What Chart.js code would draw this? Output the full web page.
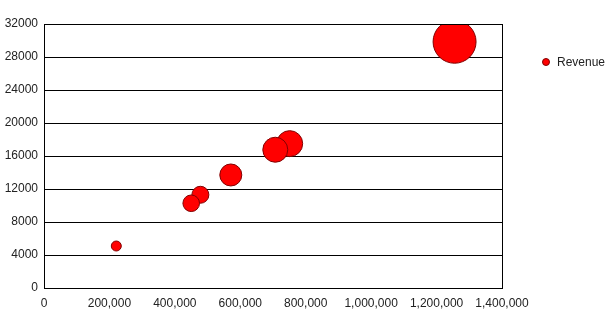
<!DOCTYPE html>
<html>
<head>
<meta charset="utf-8">
<script src="https://cdn.jsdelivr.net/npm/chart.js@4/dist/chart.umd.min.js"></script>
<style>
  html, body { margin: 0; padding: 0; background: #fff; }
  #wrap { width: 609px; height: 311px; }
</style>
</head>
<body>
<div id="wrap"><canvas id="chart" width="609" height="311"></canvas></div>
<script>
// Data (bigger bubbles first so the small ones sit on top)
const seriesName = 'Revenue';
const xValues = [1255000, 751000, 707000, 571000, 478000, 450000, 221000];
const yValues = [29850, 17500, 16760, 13700, 11300, 10270, 5090];
const sizes = [21.5, 13, 12.5, 11, 8.5, 8.3, 5];

const xTicks = [0, 200000, 400000, 600000, 800000, 1000000, 1200000, 1400000];
const yTicks = [0, 4000, 8000, 12000, 16000, 20000, 24000, 28000, 32000];

const points = xValues.map((x, i) => ({ x: x, y: yValues[i], r: sizes[i] }));

const fontFamily = '"Liberation Sans", Arial, sans-serif';

// border round the plot area plus a small legend on the right
const frameAndLegend = {
    id: 'frameAndLegend',
    afterDatasetsDraw(chart) {
        const ctx = chart.ctx;
        const a = chart.chartArea;
        ctx.save();
        ctx.strokeStyle = '#000';
        ctx.lineWidth = 1;
        ctx.strokeRect(Math.round(a.left) + 0.5, Math.round(a.top) + 0.5,
            Math.round(a.right - a.left), Math.round(a.bottom - a.top));

        // legend
        const ds = chart.data.datasets[0];
        ctx.beginPath();
        ctx.arc(546, 62, 3.5, 0, Math.PI * 2);
        ctx.fillStyle = ds.backgroundColor;
        ctx.fill();
        ctx.strokeStyle = ds.borderColor;
        ctx.stroke();
        ctx.fillStyle = '#222';
        ctx.font = '12px ' + fontFamily;
        ctx.textBaseline = 'middle';
        ctx.fillText(ds.label, 557, 62.5);
        ctx.restore();
    }
};

new Chart(document.getElementById('chart'), {
    type: 'bubble',
    data: {
        datasets: [{
            label: seriesName,
            data: points,
            backgroundColor: '#ff0000',
            borderColor: '#800000',
            borderWidth: 1
        }]
    },
    options: {
        responsive: false,
        animation: false,
        layout: { padding: { top: 24, right: 107, left: 0, bottom: 0 } },
        plugins: {
            legend: { display: false },
            tooltip: { enabled: false }
        },
        scales: {
            x: {
                type: 'linear',
                min: xTicks[0],
                max: xTicks[xTicks.length - 1],
                afterBuildTicks: s => { s.ticks = xTicks.map(v => ({ value: v })); },
                afterFit: s => { s.height = 23; },
                grid: { display: false, drawTicks: false },
                border: { display: true, color: '#000' },
                ticks: {
                    padding: 8,
                    color: '#222',
                    font: { family: fontFamily, size: 12 },
                    maxRotation: 0,
                    autoSkip: false,
                    callback: v => v.toLocaleString('en-US')
                }
            },
            y: {
                type: 'linear',
                min: yTicks[0],
                max: yTicks[yTicks.length - 1],
                afterBuildTicks: s => { s.ticks = yTicks.map(v => ({ value: v })); },
                afterFit: s => { s.width = 44; },
                grid: { color: '#000', lineWidth: 1, drawTicks: false },
                border: { display: true, color: '#000' },
                ticks: {
                    padding: 6,
                    color: '#222',
                    font: { family: fontFamily, size: 12 },
                    autoSkip: false,
                    callback: v => String(v)
                }
            }
        }
    },
    plugins: [frameAndLegend]
});
</script>
</body>
</html>
